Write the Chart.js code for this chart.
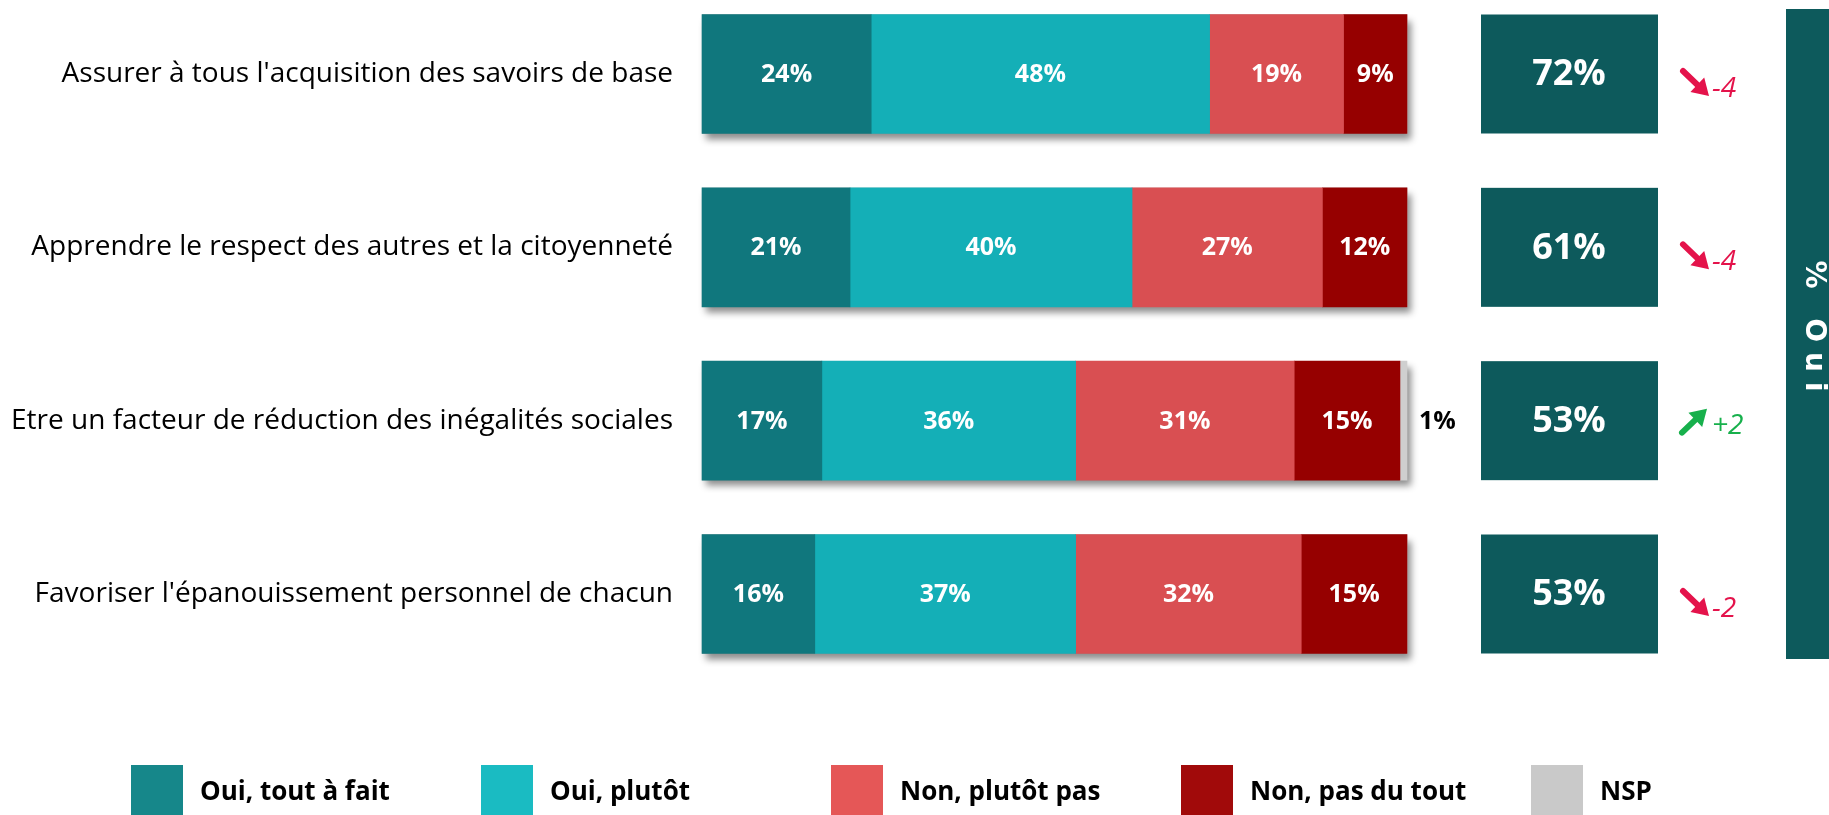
<!DOCTYPE html>
<html>
<head>
<meta charset="utf-8">
<script src="https://cdn.jsdelivr.net/npm/chart.js@4.4.1/dist/chart.umd.min.js"></script>
<style>
  html, body { margin: 0; padding: 0; background: #fff; }
  #wrap { width: 1829px; height: 815px; position: relative; }
</style>
</head>
<body>
<div id="wrap"><canvas id="chart"></canvas></div>
<script>
// DATA
var categories = [
  "Assurer à tous l'acquisition des savoirs de base",
  "Apprendre le respect des autres et la citoyenneté",
  "Etre un facteur de réduction des inégalités sociales",
  "Favoriser l'épanouissement personnel de chacun"
];
var seriesNames = ["Oui, tout à fait", "Oui, plutôt", "Non, plutôt pas", "Non, pas du tout", "NSP"];
var ouiToutAFait = [24, 21, 17, 16];
var ouiPlutot = [48, 40, 36, 37];
var nonPlutotPas = [19, 27, 31, 32];
var nonPasDuTout = [9, 12, 15, 15];
var nsp = [0, 0, 1, 0];
var totalOui = [72, 61, 53, 53];
var evolution = [-4, -4, 2, -2];
var sideLabel = "% Oui";

//COLORS
var barColors = ["#10777d", "#14afb7", "#d94f52", "#960000", "#cfcfcf"];
var legendColors = ["#16878a", "#1abbc2", "#e55757", "#a10a0a", "#c9c9c9"];
var boxColor = "#0d5a5c";
var downColor = "#e4134b";
var upColor = "#17b04c";

var allSeries = [ouiToutAFait, ouiPlutot, nonPlutotPas, nonPasDuTout, nsp];
var barH = 119;

var datasets = [];
for (var i = 0; i < allSeries.length; i++) {
  datasets.push({
    label: seriesNames[i],
    data: allSeries[i],
    backgroundColor: barColors[i],
    borderWidth: 0,
    barThickness: barH,
    clip: false
  });
}

// drawing of shadows, labels, boxes, arrows, legend
var decor = {
  id: "decor",
  beforeDatasetsDraw: function (chart) {
    var ctx = chart.ctx;
    var last = chart.getDatasetMeta(4).data;
    var first = chart.getDatasetMeta(0).data;
    ctx.save();
    ctx.shadowColor = "rgba(0,0,0,0.45)";
    ctx.shadowBlur = 7;
    ctx.shadowOffsetX = 4;
    ctx.shadowOffsetY = 6;
    ctx.fillStyle = "#888";
    for (var i = 0; i < first.length; i++) {
      var x0 = first[i].base, x1 = last[i].x, y = first[i].y;
      ctx.fillRect(x0, y - barH / 2, x1 - x0, barH);
    }
    ctx.restore();
  },
  afterDatasetsDraw: function (chart) {
    var ctx = chart.ctx;
    var yScale = chart.scales.y;
    ctx.save();
    // values in the bars
    ctx.textBaseline = "middle";
    for (var d = 0; d < allSeries.length; d++) {
      var els = chart.getDatasetMeta(d).data;
      for (var i = 0; i < els.length; i++) {
        var v = allSeries[d][i];
        if (!v) continue;
        if (d < 4) {
          ctx.fillStyle = "#fff";
          ctx.font = "bold 25px 'Open Sans'";
          ctx.textAlign = "center";
          ctx.fillText(v + "%", (els[i].x + els[i].base) / 2, els[i].y + 1);
        } else {
          ctx.fillStyle = "#000";
          ctx.font = "bold 25px 'Open Sans'";
          ctx.textAlign = "left";
          ctx.fillText(v + "%", els[i].x + 12, els[i].y + 1);
        }
      }
    }
    // total Oui boxes
    for (var i = 0; i < totalOui.length; i++) {
      var c = yScale.getPixelForValue(i);
      ctx.fillStyle = boxColor;
      ctx.fillRect(1481, c - barH / 2, 177, barH);
      ctx.fillStyle = "#fff";
      ctx.font = "bold 36px 'Open Sans'";
      ctx.textAlign = "center";
      ctx.fillText(totalOui[i] + "%", 1569, c + 1);

      // evolution arrows
      var up = evolution[i] > 0;
      var col = up ? upColor : downColor;
      var tx, ty, hx, hy, textY;
      if (up) { tx = 1682; ty = c + 12; hx = 1707; hy = c - 12; textY = c + 5; }
      else { tx = 1683; ty = c - 3; hx = 1709; hy = c + 22; textY = c + 15; }
      var ang = Math.atan2(hy - ty, hx - tx);
      ctx.strokeStyle = col;
      ctx.fillStyle = col;
      ctx.lineWidth = 6;
      ctx.lineCap = "round";
      ctx.beginPath();
      ctx.moveTo(tx, ty);
      ctx.lineTo(hx - 9 * Math.cos(ang), hy - 9 * Math.sin(ang));
      ctx.stroke();
      ctx.beginPath();
      ctx.moveTo(hx, hy);
      ctx.lineTo(hx - 19 * Math.cos(ang - 0.55), hy - 19 * Math.sin(ang - 0.55));
      ctx.lineTo(hx - 19 * Math.cos(ang + 0.55), hy - 19 * Math.sin(ang + 0.55));
      ctx.closePath();
      ctx.fill();
      ctx.font = "italic 28px 'Open Sans'";
      ctx.textAlign = "left";
      ctx.fillText((up ? "+" : "-") + Math.abs(evolution[i]), 1712, textY);
    }
    // vertical side band
    ctx.fillStyle = boxColor;
    ctx.fillRect(1786, 9, 43, 650);
    ctx.save();
    ctx.translate(1813, 331);
    ctx.rotate(Math.PI / 2);
    ctx.fillStyle = "#fff";
    ctx.font = "bold 28px 'DejaVu Sans'";
    ctx.letterSpacing = "10px";
    ctx.textAlign = "center";
    ctx.textBaseline = "middle";
    ctx.fillText(sideLabel, 0, 0);
    ctx.restore();

    // legend
    ctx.textAlign = "left";
    ctx.textBaseline = "middle";
    for (var k = 0; k < seriesNames.length; k++) {
      var lx = 131 + k * 350;
      ctx.fillStyle = legendColors[k];
      ctx.fillRect(lx, 765, 52, 60);
      ctx.fillStyle = "#000";
      ctx.font = "bold 26px 'Open Sans'";
      ctx.fillText(seriesNames[k], lx + 69, 793);
    }
    ctx.restore();
  }
};

var chart = new Chart(document.getElementById("chart"), {
  type: "bar",
  data: { labels: categories, datasets: datasets },
  options: {
    indexAxis: "y",
    responsive: true,
    maintainAspectRatio: false,
    animation: false,
    layout: { padding: { top: 74, bottom: 221, right: 422, left: 0 } },
    plugins: { legend: { display: false }, tooltip: { enabled: false } },
    scales: {
      x: { stacked: true, min: 0, max: 100, display: false },
      y: {
        stacked: true,
        offset: false,
        grid: { display: false },
        border: { display: false },
        ticks: { color: "#000", padding: 21, font: { family: "'Open Sans'", size: 28 } },
        afterFit: function (s) { s.width = 702; }
      }
    }
  },
  plugins: [decor]
});
</script>
</body>
</html>
